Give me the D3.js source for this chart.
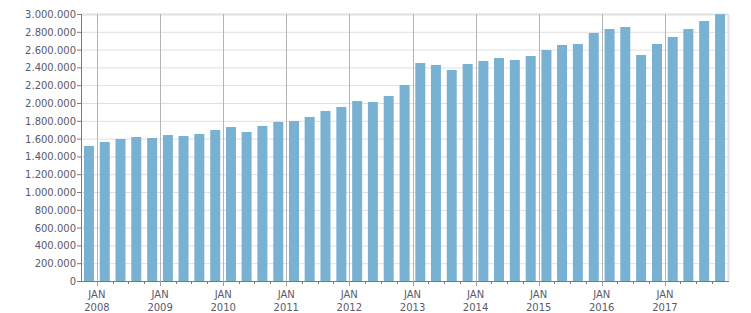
<!DOCTYPE html>
<html>
<head>
<meta charset="utf-8">
<script src="https://d3js.org/d3.v7.min.js"></script>
<style>
  body { margin: 0; background: #fff; }
  svg text { font-family: "DejaVu Sans", Verdana, sans-serif; font-size: 10px; fill: #5a5a6a; }
</style>
</head>
<body>
<svg id="chart" width="751" height="313"></svg>
<script>
// quarterly values, Q4 2007 .. Q4 2017
const quarters = ["2007-10","2008-01","2008-04","2008-07","2008-10","2009-01","2009-04","2009-07","2009-10",
  "2010-01","2010-04","2010-07","2010-10","2011-01","2011-04","2011-07","2011-10","2012-01","2012-04","2012-07",
  "2012-10","2013-01","2013-04","2013-07","2013-10","2014-01","2014-04","2014-07","2014-10","2015-01","2015-04",
  "2015-07","2015-10","2016-01","2016-04","2016-07","2016-10","2017-01","2017-04","2017-07","2017-10"];
const values = [1517000,1562000,1596000,1618000,1607000,1640000,1629000,1652000,1697000,
  1730000,1674000,1742000,1787000,1798000,1843000,1910000,1955000,2022000,2011000,2079000,
  2202000,2449000,2427000,2371000,2438000,2472000,2506000,2483000,2528000,2596000,2652000,
  2663000,2787000,2831000,2854000,2539000,2663000,2742000,2831000,2921000,2998000];
const yTicks = d3.range(0, 3000001, 200000);

const svg = d3.select("#chart");
const plotLeft = 81, plotRight = 728, plotTop = 14, plotBottom = 281;

const x = d3.scaleUtc()
  .domain([new Date(Date.UTC(2007, 9, 1)), new Date(Date.UTC(2018, 0, 1))])
  .range([plotLeft, plotRight]);
const y = d3.scaleLinear().domain([0, 3000000]).range([plotBottom, plotTop]);

const fmt = d3.formatLocale({decimal: ",", thousands: ".", grouping: [3], currency: ["", ""]}).format(",");
const parseQ = d3.utcParse("%Y-%m");

// horizontal grid
svg.append("g").selectAll("line")
  .data(yTicks.filter(d => d > 0))
  .enter().append("line")
  .attr("x1", plotLeft).attr("x2", plotRight)
  .attr("y1", d => y(d) + 0.5).attr("y2", d => y(d) + 0.5)
  .style("stroke", "#e0e0e0")
  .style("stroke-width", d => d === 3000000 ? 2 : 1);

// right border
svg.append("line")
  .attr("x1", plotRight + 0.5).attr("x2", plotRight + 0.5)
  .attr("y1", plotTop).attr("y2", plotBottom)
  .style("stroke", "#e0e0e0").style("stroke-width", 2);

// vertical grid at years
const years = x.ticks(d3.utcYear.every(1)).filter(d => d > x.domain()[0] && d < x.domain()[1]);
svg.append("g").selectAll("line")
  .data(years)
  .enter().append("line")
  .attr("x1", d => Math.round(x(d)) + 0.5).attr("x2", d => Math.round(x(d)) + 0.5)
  .attr("y1", plotTop).attr("y2", plotBottom)
  .style("stroke", "#b4b4b4");

// bars
svg.append("g").selectAll("rect")
  .data(quarters.map((q, i) => ({start: parseQ(q), value: values[i]})))
  .enter().append("rect")
  .attr("x", d => {
    const s = x(d.start), e = x(d3.utcMonth.offset(d.start, 3));
    return (s + e) / 2 - 5;
  })
  .attr("width", 10)
  .attr("y", d => y(d.value))
  .attr("height", d => plotBottom - y(d.value))
  .style("fill", "#78b1d2");

// y axis
const yAxis = svg.append("g");
yAxis.append("line")
  .attr("x1", plotLeft + 0.5).attr("x2", plotLeft + 0.5)
  .attr("y1", plotTop).attr("y2", plotBottom + 1)
  .style("stroke", "#7a7a7a");
yAxis.selectAll("line.tick")
  .data(yTicks)
  .enter().append("line")
  .attr("class", "tick")
  .attr("x1", plotLeft - 4).attr("x2", plotLeft)
  .attr("y1", d => y(d) + 0.5).attr("y2", d => y(d) + 0.5)
  .style("stroke", "#7a7a7a");
yAxis.selectAll("text")
  .data(yTicks)
  .enter().append("text")
  .attr("x", plotLeft - 5)
  .attr("y", d => y(d) + 4)
  .attr("text-anchor", "end")
  .text(d => fmt(d));

// x axis
const xAxis = svg.append("g");
xAxis.append("line")
  .attr("x1", plotLeft).attr("x2", plotRight + 1)
  .attr("y1", plotBottom + 0.5).attr("y2", plotBottom + 0.5)
  .style("stroke", "#7a7a7a");
xAxis.selectAll("line.minor")
  .data(x.ticks(d3.utcMonth.every(3)).filter(d => d > x.domain()[0] && d < x.domain()[1]))
  .enter().append("line")
  .attr("class", "minor")
  .attr("x1", d => Math.round(x(d)) + 0.5).attr("x2", d => Math.round(x(d)) + 0.5)
  .attr("y1", plotBottom).attr("y2", d => plotBottom + (d.getUTCMonth() === 0 ? 5 : 3))
  .style("stroke", d => d.getUTCMonth() === 0 ? "#a0a0a0" : "#7a7a7a");
const lbl = xAxis.selectAll("text")
  .data(years)
  .enter().append("text")
  .attr("text-anchor", "middle");
lbl.append("tspan")
  .attr("x", d => x(d)).attr("y", 298)
  .text("JAN");
lbl.append("tspan")
  .attr("x", d => x(d)).attr("y", 311)
  .text(d => d.getUTCFullYear());
</script>
</body>
</html>
